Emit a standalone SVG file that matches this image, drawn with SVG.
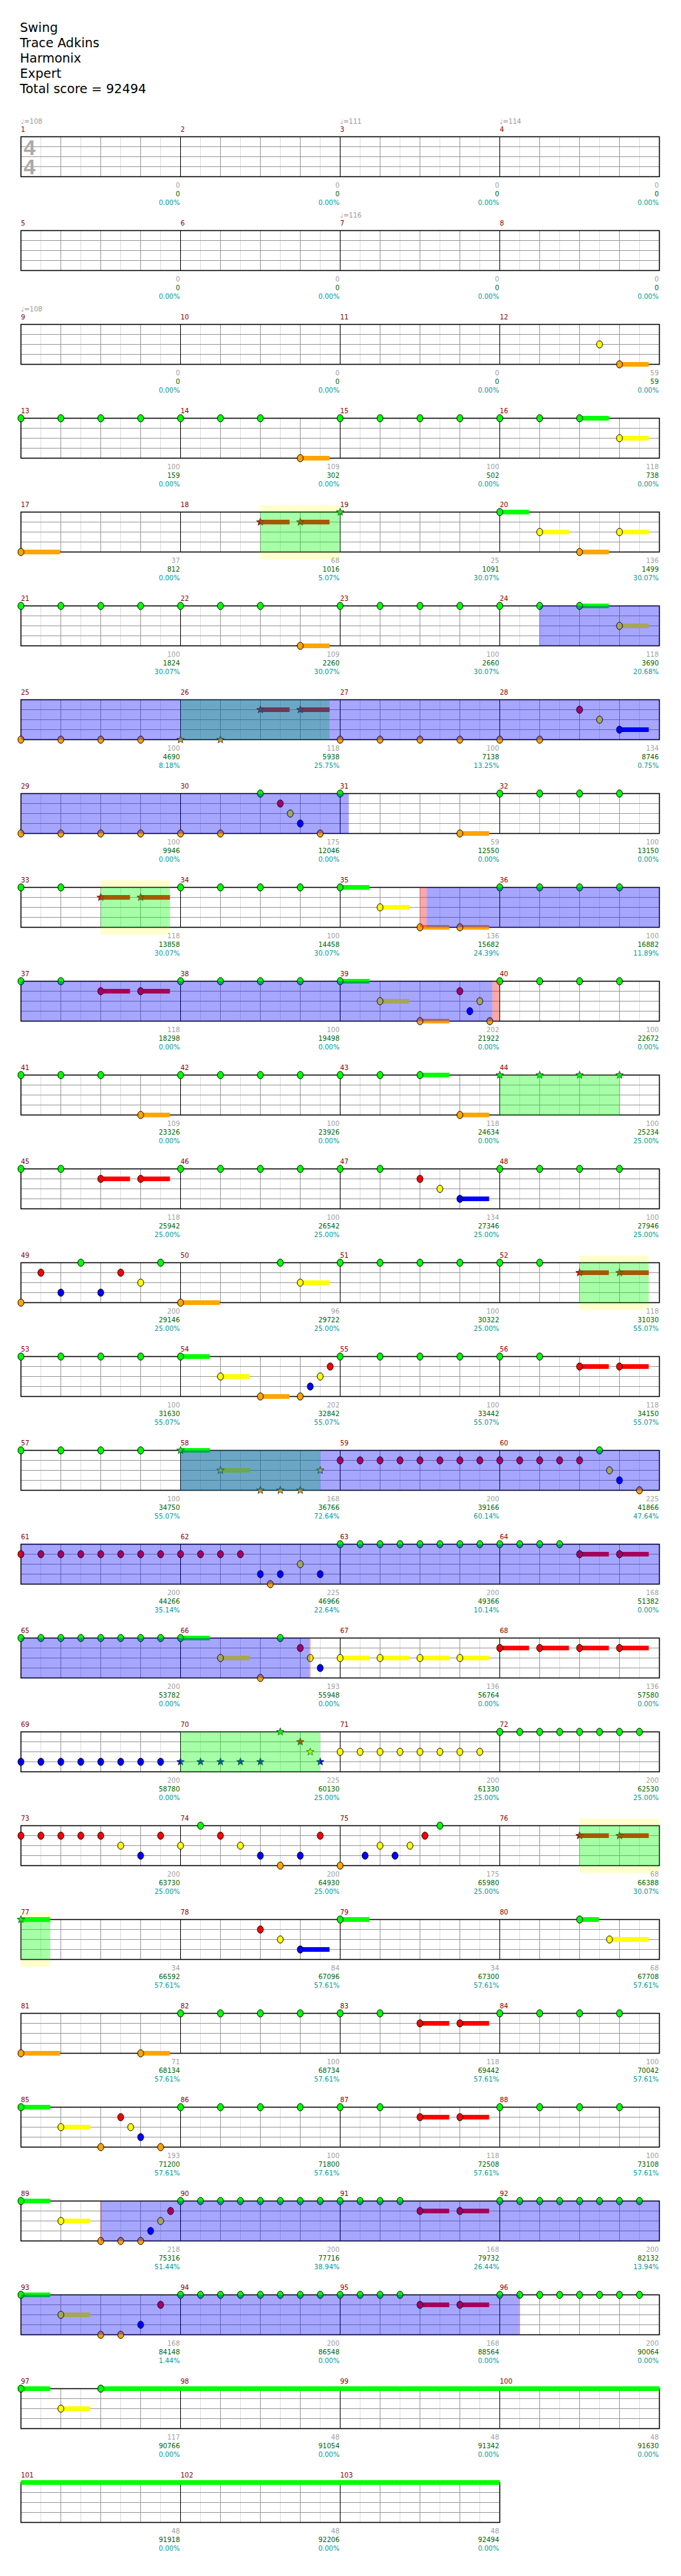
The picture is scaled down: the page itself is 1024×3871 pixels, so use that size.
<svg xmlns="http://www.w3.org/2000/svg" width="1024" height="3871" viewBox="0 0 1024 3871">
<style>
text{font-family:"DejaVu Sans","Liberation Sans",sans-serif;font-size:10px}
.ti{font-size:19px;fill:#000}
.mn{fill:#8b0000}
.a{fill:#a0a0a0;text-anchor:end}
.b{fill:#006400;text-anchor:end}
.c{fill:#009999;text-anchor:end}
.tp{fill:#999}
.ts{font-family:"Liberation Sans",sans-serif;font-weight:bold;font-size:32px;fill:#aaa}
.g{fill:#00ff00}.r{fill:#ff0000}.y{fill:#ffff00}.bl{fill:#0000ff}.o{fill:#ffa500}
.k{stroke:#000;stroke-width:1}
.sk{stroke:#222;stroke-width:.8}
.ob{fill:#0000ff;fill-opacity:.35}
.og{fill:#00ff00;fill-opacity:.35}
.op{fill:#ff0000;fill-opacity:.35}
.yb{fill:#ffffcc}
</style>
<defs>
<g id="staff" fill="none">
<path stroke="#ddd" d="M30,0V60M90,0V60M150,0V60M210,0V60M270,0V60M330,0V60M390,0V60M450,0V60M510,0V60M570,0V60M630,0V60M690,0V60M750,0V60M810,0V60M870,0V60M930,0V60"/>
<path stroke="#999" d="M60,0V60M120,0V60M180,0V60M300,0V60M360,0V60M420,0V60M540,0V60M600,0V60M660,0V60M780,0V60M840,0V60M900,0V60"/>
<path stroke="#999" d="M0,15H960M0,30H960M0,45H960"/>
<path stroke="#000" d="M240,0V60M480,0V60M720,0V60"/>
<rect width="960" height="60" stroke="#000" stroke-width="1.5"/>
</g>
<g id="staff3" fill="none">
<path stroke="#ddd" d="M30,0V60M90,0V60M150,0V60M210,0V60M270,0V60M330,0V60M390,0V60M450,0V60M510,0V60M570,0V60M630,0V60M690,0V60"/>
<path stroke="#999" d="M60,0V60M120,0V60M180,0V60M300,0V60M360,0V60M420,0V60M540,0V60M600,0V60M660,0V60"/>
<path stroke="#999" d="M0,15H720M0,30H720M0,45H720"/>
<path stroke="#000" d="M240,0V60M480,0V60"/>
<rect width="720" height="60" stroke="#000" stroke-width="1.5"/>
</g>
<ellipse id="G" rx="4.5" ry="5.5" class="g k"/>
<ellipse id="R" cy="15" rx="4.5" ry="5.5" class="r k"/>
<ellipse id="Y" cy="30" rx="4.5" ry="5.5" class="y k"/>
<ellipse id="B" cy="45" rx="4.5" ry="5.5" class="bl k"/>
<ellipse id="O" cy="60" rx="4.5" ry="5.5" class="o k"/>
<rect id="sG" y="-3.5" width="44" height="7" class="g"/>
<rect id="sR" y="11.5" width="44" height="7" class="r"/>
<rect id="sY" y="26.5" width="44" height="7" class="y"/>
<rect id="sB" y="41.5" width="44" height="7" class="bl"/>
<rect id="sO" y="56.5" width="44" height="7" class="o"/>
<path id="st" d="M0,-6L1.47,-2.02 5.71,-1.85 2.38,0.77 3.53,4.85 0,2.5 -3.53,4.85 -2.38,0.77 -5.71,-1.85 -1.47,-2.02Z"/>
<use id="tG" href="#st" class="g sk"/>
<use id="tR" href="#st" y="15" class="r sk"/>
<use id="tY" href="#st" y="30" class="y sk"/>
<use id="tB" href="#st" y="45" class="bl sk"/>
<use id="tO" href="#st" y="60" class="o sk"/>
</defs>

<g id="header">
<text class="ti" x="30" y="48">Swing</text>
<text class="ti" x="30" y="71">Trace Adkins</text>
<text class="ti" x="30" y="94">Harmonix</text>
<text class="ti" x="30" y="117">Expert</text>
<text class="ti" x="30" y="140">Total score = 92494</text>
</g>

<g id="row1" transform="translate(31.5,205.5)">
<use href="#staff"/>
<text class="ts" x="4" y="27.5">4</text><text class="ts" x="4" y="56.5">4</text>
<text class="tp" x="0" y="-20">♩=108</text><text class="tp" x="480" y="-20">♩=111</text><text class="tp" x="720" y="-20">♩=114</text>
<g class="mn"><text x="0" y="-8">1</text><text x="240" y="-8">2</text><text x="480" y="-8">3</text><text x="720" y="-8">4</text></g>
<g class="a"><text x="239" y="76.5">0</text><text x="479" y="76.5">0</text><text x="719" y="76.5">0</text><text x="959" y="76.5">0</text></g>
<g class="b"><text x="239" y="89.5">0</text><text x="479" y="89.5">0</text><text x="719" y="89.5">0</text><text x="959" y="89.5">0</text></g>
<g class="c"><text x="239" y="102.5">0.00%</text><text x="479" y="102.5">0.00%</text><text x="719" y="102.5">0.00%</text><text x="959" y="102.5">0.00%</text></g>
</g>

<g id="row2" transform="translate(31.5,346.5)">
<use href="#staff"/>
<text class="tp" x="480" y="-20">♩=116</text>
<g class="mn"><text x="0" y="-8">5</text><text x="240" y="-8">6</text><text x="480" y="-8">7</text><text x="720" y="-8">8</text></g>
<g class="a"><text x="239" y="76.5">0</text><text x="479" y="76.5">0</text><text x="719" y="76.5">0</text><text x="959" y="76.5">0</text></g>
<g class="b"><text x="239" y="89.5">0</text><text x="479" y="89.5">0</text><text x="719" y="89.5">0</text><text x="959" y="89.5">0</text></g>
<g class="c"><text x="239" y="102.5">0.00%</text><text x="479" y="102.5">0.00%</text><text x="719" y="102.5">0.00%</text><text x="959" y="102.5">0.00%</text></g>
</g>

<g id="row3" transform="translate(31.5,487.5)">
<use href="#staff"/>
<text class="tp" x="0" y="-20">♩=108</text>
<g class="mn"><text x="0" y="-8">9</text><text x="240" y="-8">10</text><text x="480" y="-8">11</text><text x="720" y="-8">12</text></g>
<use href="#sO" x="900"/>
<use href="#Y" x="870"/><use href="#O" x="900"/>
<g class="a"><text x="239" y="76.5">0</text><text x="479" y="76.5">0</text><text x="719" y="76.5">0</text><text x="959" y="76.5">59</text></g>
<g class="b"><text x="239" y="89.5">0</text><text x="479" y="89.5">0</text><text x="719" y="89.5">0</text><text x="959" y="89.5">59</text></g>
<g class="c"><text x="239" y="102.5">0.00%</text><text x="479" y="102.5">0.00%</text><text x="719" y="102.5">0.00%</text><text x="959" y="102.5">0.00%</text></g>
</g>

<g id="row4" transform="translate(31.5,628.5)">
<use href="#staff"/>
<g class="mn"><text x="0" y="-8">13</text><text x="240" y="-8">14</text><text x="480" y="-8">15</text><text x="720" y="-8">16</text></g>
<use href="#sG" x="840"/><use href="#sO" x="420"/><use href="#sY" x="900"/>
<use href="#G" x="0"/><use href="#G" x="60"/><use href="#G" x="120"/><use href="#G" x="180"/><use href="#G" x="240"/><use href="#G" x="300"/><use href="#G" x="360"/><use href="#G" x="480"/><use href="#G" x="540"/><use href="#G" x="600"/><use href="#G" x="660"/><use href="#G" x="720"/><use href="#G" x="780"/><use href="#G" x="840"/>
<use href="#O" x="420"/><use href="#Y" x="900"/>
<g class="a"><text x="239" y="76.5">100</text><text x="479" y="76.5">109</text><text x="719" y="76.5">100</text><text x="959" y="76.5">118</text></g>
<g class="b"><text x="239" y="89.5">159</text><text x="479" y="89.5">302</text><text x="719" y="89.5">502</text><text x="959" y="89.5">738</text></g>
<g class="c"><text x="239" y="102.5">0.00%</text><text x="479" y="102.5">0.00%</text><text x="719" y="102.5">0.00%</text><text x="959" y="102.5">0.00%</text></g>
</g>

<g id="row5" transform="translate(31.5,769.5)">
<rect class="yb" x="360" y="-10.5" width="120" height="10.5"/><rect class="yb" x="360" y="60" width="120" height="11"/>
<use href="#staff"/>
<g class="mn"><text x="0" y="-8">17</text><text x="240" y="-8">18</text><text x="480" y="-8">19</text><text x="720" y="-8">20</text></g>
<rect class="o" x="0" y="56.5" width="59" height="7"/>
<use href="#sR" x="360"/><use href="#sR" x="420"/><use href="#sG" x="720"/><use href="#sY" x="780"/><use href="#sO" x="840"/><use href="#sY" x="900"/>
<use href="#O" x="0"/><use href="#tR" x="360"/><use href="#tR" x="420"/><use href="#tG" x="480"/>
<use href="#G" x="720"/><use href="#Y" x="780"/><use href="#O" x="840"/><use href="#Y" x="900"/>
<rect class="og" x="360" width="120" height="60"/>
<g class="a"><text x="239" y="76.5">37</text><text x="479" y="76.5">68</text><text x="719" y="76.5">25</text><text x="959" y="76.5">136</text></g>
<g class="b"><text x="239" y="89.5">812</text><text x="479" y="89.5">1016</text><text x="719" y="89.5">1091</text><text x="959" y="89.5">1499</text></g>
<g class="c"><text x="239" y="102.5">0.00%</text><text x="479" y="102.5">5.07%</text><text x="719" y="102.5">30.07%</text><text x="959" y="102.5">30.07%</text></g>
</g>

<g id="row6" transform="translate(31.5,910.5)">
<use href="#staff"/>
<g class="mn"><text x="0" y="-8">21</text><text x="240" y="-8">22</text><text x="480" y="-8">23</text><text x="720" y="-8">24</text></g>
<use href="#sG" x="840"/><use href="#sO" x="420"/><use href="#sY" x="900"/>
<use href="#G" x="0"/><use href="#G" x="60"/><use href="#G" x="120"/><use href="#G" x="180"/><use href="#G" x="240"/><use href="#G" x="300"/><use href="#G" x="360"/><use href="#G" x="480"/><use href="#G" x="540"/><use href="#G" x="600"/><use href="#G" x="660"/><use href="#G" x="720"/><use href="#G" x="780"/><use href="#G" x="840"/>
<use href="#O" x="420"/><use href="#Y" x="900"/>
<rect class="ob" x="780" width="180" height="60"/>
<g class="a"><text x="239" y="76.5">100</text><text x="479" y="76.5">109</text><text x="719" y="76.5">100</text><text x="959" y="76.5">118</text></g>
<g class="b"><text x="239" y="89.5">1824</text><text x="479" y="89.5">2260</text><text x="719" y="89.5">2660</text><text x="959" y="89.5">3690</text></g>
<g class="c"><text x="239" y="102.5">30.07%</text><text x="479" y="102.5">30.07%</text><text x="719" y="102.5">30.07%</text><text x="959" y="102.5">20.68%</text></g>
</g>

<g id="row7" transform="translate(31.5,1051.5)">
<use href="#staff"/>
<g class="mn"><text x="0" y="-8">25</text><text x="240" y="-8">26</text><text x="480" y="-8">27</text><text x="720" y="-8">28</text></g>
<use href="#sR" x="360"/><use href="#sR" x="420"/><use href="#sB" x="900"/>
<use href="#O" x="0"/><use href="#O" x="60"/><use href="#O" x="120"/><use href="#O" x="180"/><use href="#tO" x="240"/><use href="#tO" x="300"/>
<use href="#O" x="480"/><use href="#O" x="540"/><use href="#O" x="600"/><use href="#O" x="660"/><use href="#O" x="720"/><use href="#O" x="780"/>
<use href="#tR" x="360"/><use href="#tR" x="420"/><use href="#R" x="840"/><use href="#Y" x="870"/><use href="#B" x="900"/>
<rect class="og" x="240" width="224" height="60"/>
<rect class="ob" x="0" width="960" height="60"/>
<g class="a"><text x="239" y="76.5">100</text><text x="479" y="76.5">118</text><text x="719" y="76.5">100</text><text x="959" y="76.5">134</text></g>
<g class="b"><text x="239" y="89.5">4690</text><text x="479" y="89.5">5938</text><text x="719" y="89.5">7138</text><text x="959" y="89.5">8746</text></g>
<g class="c"><text x="239" y="102.5">8.18%</text><text x="479" y="102.5">25.75%</text><text x="719" y="102.5">13.25%</text><text x="959" y="102.5">0.75%</text></g>
</g>

<g id="row8" transform="translate(31.5,1192.5)">
<use href="#staff"/>
<g class="mn"><text x="0" y="-8">29</text><text x="240" y="-8">30</text><text x="480" y="-8">31</text><text x="720" y="-8">32</text></g>
<use href="#sO" x="660"/>
<use href="#O" x="0"/><use href="#O" x="60"/><use href="#O" x="120"/><use href="#O" x="180"/><use href="#O" x="240"/><use href="#O" x="300"/><use href="#O" x="450"/>
<use href="#G" x="360"/><use href="#G" x="480"/><use href="#R" x="390"/><use href="#Y" x="405"/><use href="#B" x="420"/>
<use href="#O" x="660"/><use href="#G" x="720"/><use href="#G" x="780"/><use href="#G" x="840"/><use href="#G" x="900"/>
<rect class="ob" x="0" width="493" height="60"/>
<g class="a"><text x="239" y="76.5">100</text><text x="479" y="76.5">175</text><text x="719" y="76.5">59</text><text x="959" y="76.5">100</text></g>
<g class="b"><text x="239" y="89.5">9946</text><text x="479" y="89.5">12046</text><text x="719" y="89.5">12550</text><text x="959" y="89.5">13150</text></g>
<g class="c"><text x="239" y="102.5">0.00%</text><text x="479" y="102.5">0.00%</text><text x="719" y="102.5">0.00%</text><text x="959" y="102.5">0.00%</text></g>
</g>

<g id="row9" transform="translate(31.5,1333.5)">
<rect class="yb" x="120" y="-10.5" width="104" height="10.5"/><rect class="yb" x="120" y="60" width="104" height="11"/>
<use href="#staff"/>
<g class="mn"><text x="0" y="-8">33</text><text x="240" y="-8">34</text><text x="480" y="-8">35</text><text x="720" y="-8">36</text></g>
<use href="#sR" x="120"/><use href="#sR" x="180"/><use href="#sG" x="480"/><use href="#sY" x="540"/><use href="#sO" x="600"/><use href="#sO" x="660"/>
<use href="#G" x="0"/><use href="#G" x="60"/><use href="#tR" x="120"/><use href="#tR" x="180"/>
<use href="#G" x="240"/><use href="#G" x="300"/><use href="#G" x="360"/><use href="#G" x="420"/><use href="#G" x="480"/><use href="#Y" x="540"/>
<use href="#O" x="600"/><use href="#O" x="660"/><use href="#G" x="720"/><use href="#G" x="780"/><use href="#G" x="840"/><use href="#G" x="900"/>
<rect class="og" x="120" width="104" height="60"/>
<rect class="op" x="600" width="10" height="60"/>
<rect class="ob" x="610" width="350" height="60"/>
<g class="a"><text x="239" y="76.5">118</text><text x="479" y="76.5">100</text><text x="719" y="76.5">136</text><text x="959" y="76.5">100</text></g>
<g class="b"><text x="239" y="89.5">13858</text><text x="479" y="89.5">14458</text><text x="719" y="89.5">15682</text><text x="959" y="89.5">16882</text></g>
<g class="c"><text x="239" y="102.5">30.07%</text><text x="479" y="102.5">30.07%</text><text x="719" y="102.5">24.39%</text><text x="959" y="102.5">11.89%</text></g>
</g>

<g id="row10" transform="translate(31.5,1474.5)">
<use href="#staff"/>
<g class="mn"><text x="0" y="-8">37</text><text x="240" y="-8">38</text><text x="480" y="-8">39</text><text x="720" y="-8">40</text></g>
<use href="#sR" x="120"/><use href="#sR" x="180"/><use href="#sG" x="480"/><use href="#sY" x="540"/><use href="#sO" x="600"/>
<use href="#G" x="0"/><use href="#G" x="60"/><use href="#G" x="240"/><use href="#G" x="300"/><use href="#G" x="360"/><use href="#G" x="420"/><use href="#G" x="480"/>
<use href="#G" x="720"/><use href="#G" x="780"/><use href="#G" x="840"/><use href="#G" x="900"/>
<use href="#R" x="120"/><use href="#R" x="180"/><use href="#R" x="660"/><use href="#B" x="675"/><use href="#Y" x="540"/><use href="#Y" x="690"/><use href="#O" x="600"/><use href="#O" x="705"/>
<rect class="ob" x="0" width="709" height="60"/>
<rect class="op" x="709" width="11" height="60"/>
<g class="a"><text x="239" y="76.5">118</text><text x="479" y="76.5">100</text><text x="719" y="76.5">202</text><text x="959" y="76.5">100</text></g>
<g class="b"><text x="239" y="89.5">18298</text><text x="479" y="89.5">19498</text><text x="719" y="89.5">21922</text><text x="959" y="89.5">22672</text></g>
<g class="c"><text x="239" y="102.5">0.00%</text><text x="479" y="102.5">0.00%</text><text x="719" y="102.5">0.00%</text><text x="959" y="102.5">0.00%</text></g>
</g>

<g id="row11" transform="translate(31.5,1615.5)">
<use href="#staff"/>
<g class="mn"><text x="0" y="-8">41</text><text x="240" y="-8">42</text><text x="480" y="-8">43</text><text x="720" y="-8">44</text></g>
<use href="#sO" x="180"/><use href="#sG" x="600"/><use href="#sO" x="660"/>
<use href="#G" x="0"/><use href="#G" x="60"/><use href="#G" x="120"/><use href="#G" x="240"/><use href="#G" x="300"/><use href="#G" x="360"/><use href="#G" x="420"/><use href="#G" x="480"/><use href="#G" x="540"/><use href="#G" x="600"/>
<use href="#O" x="180"/><use href="#O" x="660"/>
<use href="#tG" x="720"/><use href="#tG" x="780"/><use href="#tG" x="840"/><use href="#tG" x="900"/>
<rect class="og" x="720" width="180" height="60"/>
<g class="a"><text x="239" y="76.5">109</text><text x="479" y="76.5">100</text><text x="719" y="76.5">118</text><text x="959" y="76.5">100</text></g>
<g class="b"><text x="239" y="89.5">23326</text><text x="479" y="89.5">23926</text><text x="719" y="89.5">24634</text><text x="959" y="89.5">25234</text></g>
<g class="c"><text x="239" y="102.5">0.00%</text><text x="479" y="102.5">0.00%</text><text x="719" y="102.5">0.00%</text><text x="959" y="102.5">25.00%</text></g>
</g>

<g id="row12" transform="translate(31.5,1756.5)">
<use href="#staff"/>
<g class="mn"><text x="0" y="-8">45</text><text x="240" y="-8">46</text><text x="480" y="-8">47</text><text x="720" y="-8">48</text></g>
<use href="#sR" x="120"/><use href="#sR" x="180"/><use href="#sB" x="660"/>
<use href="#G" x="0"/><use href="#G" x="60"/><use href="#G" x="240"/><use href="#G" x="300"/><use href="#G" x="360"/><use href="#G" x="420"/><use href="#G" x="480"/><use href="#G" x="540"/>
<use href="#G" x="720"/><use href="#G" x="780"/><use href="#G" x="840"/><use href="#G" x="900"/>
<use href="#R" x="120"/><use href="#R" x="180"/><use href="#R" x="600"/><use href="#Y" x="630"/><use href="#B" x="660"/>
<g class="a"><text x="239" y="76.5">118</text><text x="479" y="76.5">100</text><text x="719" y="76.5">134</text><text x="959" y="76.5">100</text></g>
<g class="b"><text x="239" y="89.5">25942</text><text x="479" y="89.5">26542</text><text x="719" y="89.5">27346</text><text x="959" y="89.5">27946</text></g>
<g class="c"><text x="239" y="102.5">25.00%</text><text x="479" y="102.5">25.00%</text><text x="719" y="102.5">25.00%</text><text x="959" y="102.5">25.00%</text></g>
</g>

<g id="row13" transform="translate(31.5,1897.5)">
<rect class="yb" x="840" y="-10.5" width="104" height="10.5"/><rect class="yb" x="840" y="60" width="104" height="11"/>
<use href="#staff"/>
<g class="mn"><text x="0" y="-8">49</text><text x="240" y="-8">50</text><text x="480" y="-8">51</text><text x="720" y="-8">52</text></g>
<rect class="o" x="240" y="56.5" width="59" height="7"/><use href="#sY" x="420"/><use href="#sR" x="840"/><use href="#sR" x="900"/>
<use href="#O" x="0"/><use href="#O" x="240"/><use href="#R" x="30"/><use href="#R" x="150"/><use href="#B" x="60"/><use href="#B" x="120"/>
<use href="#G" x="90"/><use href="#G" x="210"/><use href="#Y" x="180"/><use href="#G" x="390"/><use href="#Y" x="420"/>
<use href="#G" x="480"/><use href="#G" x="540"/><use href="#G" x="600"/><use href="#G" x="660"/><use href="#G" x="720"/><use href="#G" x="780"/>
<use href="#tR" x="840"/><use href="#tR" x="900"/>
<rect class="og" x="840" width="104" height="60"/>
<g class="a"><text x="239" y="76.5">200</text><text x="479" y="76.5">96</text><text x="719" y="76.5">100</text><text x="959" y="76.5">118</text></g>
<g class="b"><text x="239" y="89.5">29146</text><text x="479" y="89.5">29722</text><text x="719" y="89.5">30322</text><text x="959" y="89.5">31030</text></g>
<g class="c"><text x="239" y="102.5">25.00%</text><text x="479" y="102.5">25.00%</text><text x="719" y="102.5">25.00%</text><text x="959" y="102.5">55.07%</text></g>
</g>

<g id="row14" transform="translate(31.5,2038.5)">
<use href="#staff"/>
<g class="mn"><text x="0" y="-8">53</text><text x="240" y="-8">54</text><text x="480" y="-8">55</text><text x="720" y="-8">56</text></g>
<use href="#sG" x="240"/><use href="#sY" x="300"/><use href="#sO" x="360"/><use href="#sR" x="840"/><use href="#sR" x="900"/>
<use href="#G" x="0"/><use href="#G" x="60"/><use href="#G" x="120"/><use href="#G" x="180"/><use href="#G" x="240"/>
<use href="#Y" x="300"/><use href="#O" x="360"/><use href="#O" x="420"/><use href="#B" x="435"/><use href="#Y" x="450"/><use href="#R" x="465"/>
<use href="#G" x="480"/><use href="#G" x="540"/><use href="#G" x="600"/><use href="#G" x="660"/><use href="#G" x="720"/><use href="#G" x="780"/>
<use href="#R" x="840"/><use href="#R" x="900"/>
<g class="a"><text x="239" y="76.5">100</text><text x="479" y="76.5">202</text><text x="719" y="76.5">100</text><text x="959" y="76.5">118</text></g>
<g class="b"><text x="239" y="89.5">31630</text><text x="479" y="89.5">32842</text><text x="719" y="89.5">33442</text><text x="959" y="89.5">34150</text></g>
<g class="c"><text x="239" y="102.5">55.07%</text><text x="479" y="102.5">55.07%</text><text x="719" y="102.5">55.07%</text><text x="959" y="102.5">55.07%</text></g>
</g>

<g id="row15" transform="translate(31.5,2179.5)">
<use href="#staff"/>
<g class="mn"><text x="0" y="-8">57</text><text x="240" y="-8">58</text><text x="480" y="-8">59</text><text x="720" y="-8">60</text></g>
<use href="#sG" x="240"/><use href="#sY" x="300"/>
<use href="#G" x="0"/><use href="#G" x="60"/><use href="#G" x="120"/><use href="#G" x="180"/>
<use href="#tG" x="240"/><use href="#tY" x="300"/><use href="#tO" x="360"/><use href="#tO" x="390"/><use href="#tO" x="420"/><use href="#tY" x="450"/>
<use href="#R" x="480"/><use href="#R" x="510"/><use href="#R" x="540"/><use href="#R" x="570"/><use href="#R" x="600"/><use href="#R" x="630"/><use href="#R" x="660"/><use href="#R" x="690"/><use href="#R" x="720"/><use href="#R" x="750"/><use href="#R" x="780"/><use href="#R" x="810"/><use href="#R" x="840"/>
<use href="#G" x="870"/><use href="#Y" x="885"/><use href="#B" x="900"/><use href="#O" x="930"/>
<rect class="og" x="240" width="210" height="60"/>
<rect class="ob" x="240" width="720" height="60"/>
<g class="a"><text x="239" y="76.5">100</text><text x="479" y="76.5">168</text><text x="719" y="76.5">200</text><text x="959" y="76.5">225</text></g>
<g class="b"><text x="239" y="89.5">34750</text><text x="479" y="89.5">36766</text><text x="719" y="89.5">39166</text><text x="959" y="89.5">41866</text></g>
<g class="c"><text x="239" y="102.5">55.07%</text><text x="479" y="102.5">72.64%</text><text x="719" y="102.5">60.14%</text><text x="959" y="102.5">47.64%</text></g>
</g>

<g id="row16" transform="translate(31.5,2320.5)">
<use href="#staff"/>
<g class="mn"><text x="0" y="-8">61</text><text x="240" y="-8">62</text><text x="480" y="-8">63</text><text x="720" y="-8">64</text></g>
<use href="#sR" x="840"/><use href="#sR" x="900"/>
<use href="#R" x="0"/><use href="#R" x="30"/><use href="#R" x="60"/><use href="#R" x="90"/><use href="#R" x="120"/><use href="#R" x="150"/><use href="#R" x="180"/><use href="#R" x="210"/><use href="#R" x="240"/><use href="#R" x="270"/><use href="#R" x="300"/><use href="#R" x="330"/>
<use href="#B" x="360"/><use href="#O" x="375"/><use href="#B" x="390"/><use href="#Y" x="420"/><use href="#B" x="450"/>
<use href="#G" x="480"/><use href="#G" x="510"/><use href="#G" x="540"/><use href="#G" x="570"/><use href="#G" x="600"/><use href="#G" x="630"/><use href="#G" x="660"/><use href="#G" x="690"/><use href="#G" x="720"/><use href="#G" x="750"/><use href="#G" x="780"/><use href="#G" x="810"/>
<use href="#R" x="840"/><use href="#R" x="900"/>
<rect class="ob" x="0" width="960" height="60"/>
<g class="a"><text x="239" y="76.5">200</text><text x="479" y="76.5">225</text><text x="719" y="76.5">200</text><text x="959" y="76.5">168</text></g>
<g class="b"><text x="239" y="89.5">44266</text><text x="479" y="89.5">46966</text><text x="719" y="89.5">49366</text><text x="959" y="89.5">51382</text></g>
<g class="c"><text x="239" y="102.5">35.14%</text><text x="479" y="102.5">22.64%</text><text x="719" y="102.5">10.14%</text><text x="959" y="102.5">0.00%</text></g>
</g>

<g id="row17" transform="translate(31.5,2461.5)">
<use href="#staff"/>
<g class="mn"><text x="0" y="-8">65</text><text x="240" y="-8">66</text><text x="480" y="-8">67</text><text x="720" y="-8">68</text></g>
<use href="#sG" x="240"/><use href="#sY" x="300"/><use href="#sY" x="480"/><use href="#sY" x="540"/><use href="#sY" x="600"/><use href="#sY" x="660"/>
<use href="#sR" x="720"/><use href="#sR" x="780"/><use href="#sR" x="840"/><use href="#sR" x="900"/>
<use href="#G" x="0"/><use href="#G" x="30"/><use href="#G" x="60"/><use href="#G" x="90"/><use href="#G" x="120"/><use href="#G" x="150"/><use href="#G" x="180"/><use href="#G" x="210"/><use href="#G" x="240"/>
<use href="#Y" x="300"/><use href="#O" x="360"/><use href="#G" x="390"/><use href="#R" x="420"/><use href="#Y" x="435"/><use href="#B" x="450"/>
<use href="#Y" x="480"/><use href="#Y" x="540"/><use href="#Y" x="600"/><use href="#Y" x="660"/>
<use href="#R" x="720"/><use href="#R" x="780"/><use href="#R" x="840"/><use href="#R" x="900"/>
<rect class="ob" x="0" width="434" height="60"/>
<rect class="op" x="434" width="1.5" height="60"/>
<g class="a"><text x="239" y="76.5">200</text><text x="479" y="76.5">193</text><text x="719" y="76.5">136</text><text x="959" y="76.5">136</text></g>
<g class="b"><text x="239" y="89.5">53782</text><text x="479" y="89.5">55948</text><text x="719" y="89.5">56764</text><text x="959" y="89.5">57580</text></g>
<g class="c"><text x="239" y="102.5">0.00%</text><text x="479" y="102.5">0.00%</text><text x="719" y="102.5">0.00%</text><text x="959" y="102.5">0.00%</text></g>
</g>

<g id="row18" transform="translate(31.5,2602.5)">
<use href="#staff"/>
<g class="mn"><text x="0" y="-8">69</text><text x="240" y="-8">70</text><text x="480" y="-8">71</text><text x="720" y="-8">72</text></g>
<use href="#B" x="0"/><use href="#B" x="30"/><use href="#B" x="60"/><use href="#B" x="90"/><use href="#B" x="120"/><use href="#B" x="150"/><use href="#B" x="180"/><use href="#B" x="210"/>
<use href="#tB" x="240"/><use href="#tB" x="270"/><use href="#tB" x="300"/><use href="#tB" x="330"/><use href="#tB" x="360"/>
<use href="#tG" x="390"/><use href="#tR" x="420"/><use href="#tY" x="435"/><use href="#tB" x="450"/>
<use href="#Y" x="480"/><use href="#Y" x="510"/><use href="#Y" x="540"/><use href="#Y" x="570"/><use href="#Y" x="600"/><use href="#Y" x="630"/><use href="#Y" x="660"/><use href="#Y" x="690"/>
<use href="#G" x="720"/><use href="#G" x="750"/><use href="#G" x="780"/><use href="#G" x="810"/><use href="#G" x="840"/><use href="#G" x="870"/><use href="#G" x="900"/><use href="#G" x="930"/>
<rect class="og" x="240" width="210" height="60"/>
<g class="a"><text x="239" y="76.5">200</text><text x="479" y="76.5">225</text><text x="719" y="76.5">200</text><text x="959" y="76.5">200</text></g>
<g class="b"><text x="239" y="89.5">58780</text><text x="479" y="89.5">60130</text><text x="719" y="89.5">61330</text><text x="959" y="89.5">62530</text></g>
<g class="c"><text x="239" y="102.5">0.00%</text><text x="479" y="102.5">25.00%</text><text x="719" y="102.5">25.00%</text><text x="959" y="102.5">25.00%</text></g>
</g>

<g id="row19" transform="translate(31.5,2743.5)">
<rect class="yb" x="840" y="-10.5" width="120" height="10.5"/><rect class="yb" x="840" y="60" width="120" height="11"/>
<use href="#staff"/>
<g class="mn"><text x="0" y="-8">73</text><text x="240" y="-8">74</text><text x="480" y="-8">75</text><text x="720" y="-8">76</text></g>
<use href="#sR" x="840"/><use href="#sR" x="900"/>
<use href="#R" x="0"/><use href="#R" x="30"/><use href="#R" x="60"/><use href="#R" x="90"/><use href="#R" x="120"/><use href="#Y" x="150"/><use href="#B" x="180"/><use href="#R" x="210"/>
<use href="#Y" x="240"/><use href="#G" x="270"/><use href="#R" x="300"/><use href="#Y" x="330"/><use href="#B" x="360"/><use href="#O" x="390"/><use href="#B" x="420"/><use href="#R" x="450"/>
<use href="#O" x="480"/><use href="#B" x="517.5"/><use href="#Y" x="540"/><use href="#B" x="562.5"/><use href="#Y" x="585"/><use href="#R" x="607.5"/><use href="#G" x="630"/>
<use href="#tR" x="840"/><use href="#tR" x="900"/>
<rect class="og" x="840" width="120" height="60"/>
<g class="a"><text x="239" y="76.5">200</text><text x="479" y="76.5">200</text><text x="719" y="76.5">175</text><text x="959" y="76.5">68</text></g>
<g class="b"><text x="239" y="89.5">63730</text><text x="479" y="89.5">64930</text><text x="719" y="89.5">65980</text><text x="959" y="89.5">66388</text></g>
<g class="c"><text x="239" y="102.5">25.00%</text><text x="479" y="102.5">25.00%</text><text x="719" y="102.5">25.00%</text><text x="959" y="102.5">30.07%</text></g>
</g>

<g id="row20" transform="translate(31.5,2884.5)">
<rect class="yb" x="0" y="-10.5" width="44" height="10.5"/><rect class="yb" x="0" y="60" width="44" height="11"/>
<use href="#staff"/>
<g class="mn"><text x="0" y="-8">77</text><text x="240" y="-8">78</text><text x="480" y="-8">79</text><text x="720" y="-8">80</text></g>
<use href="#sG" x="0"/><use href="#sB" x="420"/><use href="#sG" x="480"/>
<rect class="g" x="840" y="-3.5" width="29" height="7"/><rect class="y" x="885" y="26.5" width="59" height="7"/>
<use href="#tG" x="0"/><use href="#R" x="360"/><use href="#Y" x="390"/><use href="#B" x="420"/><use href="#G" x="480"/><use href="#G" x="840"/><use href="#Y" x="885"/>
<rect class="og" x="0" width="44" height="60"/>
<g class="a"><text x="239" y="76.5">34</text><text x="479" y="76.5">84</text><text x="719" y="76.5">34</text><text x="959" y="76.5">68</text></g>
<g class="b"><text x="239" y="89.5">66592</text><text x="479" y="89.5">67096</text><text x="719" y="89.5">67300</text><text x="959" y="89.5">67708</text></g>
<g class="c"><text x="239" y="102.5">57.61%</text><text x="479" y="102.5">57.61%</text><text x="719" y="102.5">57.61%</text><text x="959" y="102.5">57.61%</text></g>
</g>

<g id="row21" transform="translate(31.5,3025.5)">
<use href="#staff"/>
<g class="mn"><text x="0" y="-8">81</text><text x="240" y="-8">82</text><text x="480" y="-8">83</text><text x="720" y="-8">84</text></g>
<rect class="o" x="0" y="56.5" width="59" height="7"/><use href="#sO" x="180"/><use href="#sR" x="600"/><use href="#sR" x="660"/>
<use href="#O" x="0"/><use href="#O" x="180"/>
<use href="#G" x="240"/><use href="#G" x="300"/><use href="#G" x="360"/><use href="#G" x="420"/><use href="#G" x="480"/><use href="#G" x="540"/>
<use href="#R" x="600"/><use href="#R" x="660"/>
<use href="#G" x="720"/><use href="#G" x="780"/><use href="#G" x="840"/><use href="#G" x="900"/>
<g class="a"><text x="239" y="76.5">71</text><text x="479" y="76.5">100</text><text x="719" y="76.5">118</text><text x="959" y="76.5">100</text></g>
<g class="b"><text x="239" y="89.5">68134</text><text x="479" y="89.5">68734</text><text x="719" y="89.5">69442</text><text x="959" y="89.5">70042</text></g>
<g class="c"><text x="239" y="102.5">57.61%</text><text x="479" y="102.5">57.61%</text><text x="719" y="102.5">57.61%</text><text x="959" y="102.5">57.61%</text></g>
</g>

<g id="row22" transform="translate(31.5,3166.5)">
<use href="#staff"/>
<g class="mn"><text x="0" y="-8">85</text><text x="240" y="-8">86</text><text x="480" y="-8">87</text><text x="720" y="-8">88</text></g>
<use href="#sG" x="0"/><use href="#sY" x="60"/><use href="#sR" x="600"/><use href="#sR" x="660"/>
<use href="#G" x="0"/><use href="#Y" x="60"/><use href="#O" x="120"/><use href="#R" x="150"/><use href="#Y" x="165"/><use href="#B" x="180"/><use href="#O" x="210"/>
<use href="#G" x="240"/><use href="#G" x="300"/><use href="#G" x="360"/><use href="#G" x="420"/><use href="#G" x="480"/><use href="#G" x="540"/>
<use href="#R" x="600"/><use href="#R" x="660"/>
<use href="#G" x="720"/><use href="#G" x="780"/><use href="#G" x="840"/><use href="#G" x="900"/>
<g class="a"><text x="239" y="76.5">193</text><text x="479" y="76.5">100</text><text x="719" y="76.5">118</text><text x="959" y="76.5">100</text></g>
<g class="b"><text x="239" y="89.5">71200</text><text x="479" y="89.5">71800</text><text x="719" y="89.5">72508</text><text x="959" y="89.5">73108</text></g>
<g class="c"><text x="239" y="102.5">57.61%</text><text x="479" y="102.5">57.61%</text><text x="719" y="102.5">57.61%</text><text x="959" y="102.5">57.61%</text></g>
</g>

<g id="row23" transform="translate(31.5,3307.5)">
<use href="#staff"/>
<g class="mn"><text x="0" y="-8">89</text><text x="240" y="-8">90</text><text x="480" y="-8">91</text><text x="720" y="-8">92</text></g>
<use href="#sG" x="0"/><use href="#sY" x="60"/><use href="#sR" x="600"/><use href="#sR" x="660"/>
<use href="#G" x="0"/><use href="#Y" x="60"/><use href="#O" x="120"/><use href="#O" x="150"/><use href="#O" x="180"/><use href="#B" x="195"/><use href="#Y" x="210"/><use href="#R" x="225"/>
<use href="#G" x="240"/><use href="#G" x="270"/><use href="#G" x="300"/><use href="#G" x="330"/><use href="#G" x="360"/><use href="#G" x="390"/><use href="#G" x="420"/><use href="#G" x="450"/><use href="#G" x="480"/><use href="#G" x="510"/><use href="#G" x="540"/><use href="#G" x="570"/>
<use href="#R" x="600"/><use href="#R" x="660"/>
<use href="#G" x="720"/><use href="#G" x="750"/><use href="#G" x="780"/><use href="#G" x="810"/><use href="#G" x="840"/><use href="#G" x="870"/><use href="#G" x="900"/><use href="#G" x="930"/>
<rect class="ob" x="120" width="840" height="60"/>
<rect class="op" x="119.5" width="1.5" height="60"/>
<g class="a"><text x="239" y="76.5">218</text><text x="479" y="76.5">200</text><text x="719" y="76.5">168</text><text x="959" y="76.5">200</text></g>
<g class="b"><text x="239" y="89.5">75316</text><text x="479" y="89.5">77716</text><text x="719" y="89.5">79732</text><text x="959" y="89.5">82132</text></g>
<g class="c"><text x="239" y="102.5">51.44%</text><text x="479" y="102.5">38.94%</text><text x="719" y="102.5">26.44%</text><text x="959" y="102.5">13.94%</text></g>
</g>

<g id="row24" transform="translate(31.5,3448.5)">
<use href="#staff"/>
<g class="mn"><text x="0" y="-8">93</text><text x="240" y="-8">94</text><text x="480" y="-8">95</text><text x="720" y="-8">96</text></g>
<use href="#sG" x="0"/><use href="#sY" x="60"/><use href="#sR" x="600"/><use href="#sR" x="660"/>
<use href="#G" x="0"/><use href="#Y" x="60"/><use href="#O" x="120"/><use href="#O" x="150"/><use href="#B" x="180"/><use href="#R" x="210"/>
<use href="#G" x="240"/><use href="#G" x="270"/><use href="#G" x="300"/><use href="#G" x="330"/><use href="#G" x="360"/><use href="#G" x="390"/><use href="#G" x="420"/><use href="#G" x="450"/><use href="#G" x="480"/><use href="#G" x="510"/><use href="#G" x="540"/><use href="#G" x="570"/>
<use href="#R" x="600"/><use href="#R" x="660"/>
<use href="#G" x="720"/><use href="#G" x="750"/><use href="#G" x="780"/><use href="#G" x="810"/><use href="#G" x="840"/><use href="#G" x="870"/><use href="#G" x="900"/><use href="#G" x="930"/>
<rect class="ob" x="0" width="749" height="60"/>
<rect class="op" x="749" width="1.5" height="60"/>
<g class="a"><text x="239" y="76.5">168</text><text x="479" y="76.5">200</text><text x="719" y="76.5">168</text><text x="959" y="76.5">200</text></g>
<g class="b"><text x="239" y="89.5">84148</text><text x="479" y="89.5">86548</text><text x="719" y="89.5">88564</text><text x="959" y="89.5">90064</text></g>
<g class="c"><text x="239" y="102.5">1.44%</text><text x="479" y="102.5">0.00%</text><text x="719" y="102.5">0.00%</text><text x="959" y="102.5">0.00%</text></g>
</g>

<g id="row25" transform="translate(31.5,3589.5)">
<use href="#staff"/>
<g class="mn"><text x="0" y="-8">97</text><text x="240" y="-8">98</text><text x="480" y="-8">99</text><text x="720" y="-8">100</text></g>
<use href="#sG" x="0"/><use href="#sY" x="60"/><rect class="g" x="120" y="-3.5" width="840" height="7"/>
<use href="#G" x="0"/><use href="#Y" x="60"/><use href="#G" x="120"/>
<g class="a"><text x="239" y="76.5">117</text><text x="479" y="76.5">48</text><text x="719" y="76.5">48</text><text x="959" y="76.5">48</text></g>
<g class="b"><text x="239" y="89.5">90766</text><text x="479" y="89.5">91054</text><text x="719" y="89.5">91342</text><text x="959" y="89.5">91630</text></g>
<g class="c"><text x="239" y="102.5">0.00%</text><text x="479" y="102.5">0.00%</text><text x="719" y="102.5">0.00%</text><text x="959" y="102.5">0.00%</text></g>
</g>

<g id="row26" transform="translate(31.5,3730.5)">
<use href="#staff3"/>
<g class="mn"><text x="0" y="-8">101</text><text x="240" y="-8">102</text><text x="480" y="-8">103</text></g>
<rect class="g" x="0" y="-3.5" width="720" height="7"/>
<g class="a"><text x="239" y="76.5">48</text><text x="479" y="76.5">48</text><text x="719" y="76.5">48</text></g>
<g class="b"><text x="239" y="89.5">91918</text><text x="479" y="89.5">92206</text><text x="719" y="89.5">92494</text></g>
<g class="c"><text x="239" y="102.5">0.00%</text><text x="479" y="102.5">0.00%</text><text x="719" y="102.5">0.00%</text></g>
</g>
</svg>
